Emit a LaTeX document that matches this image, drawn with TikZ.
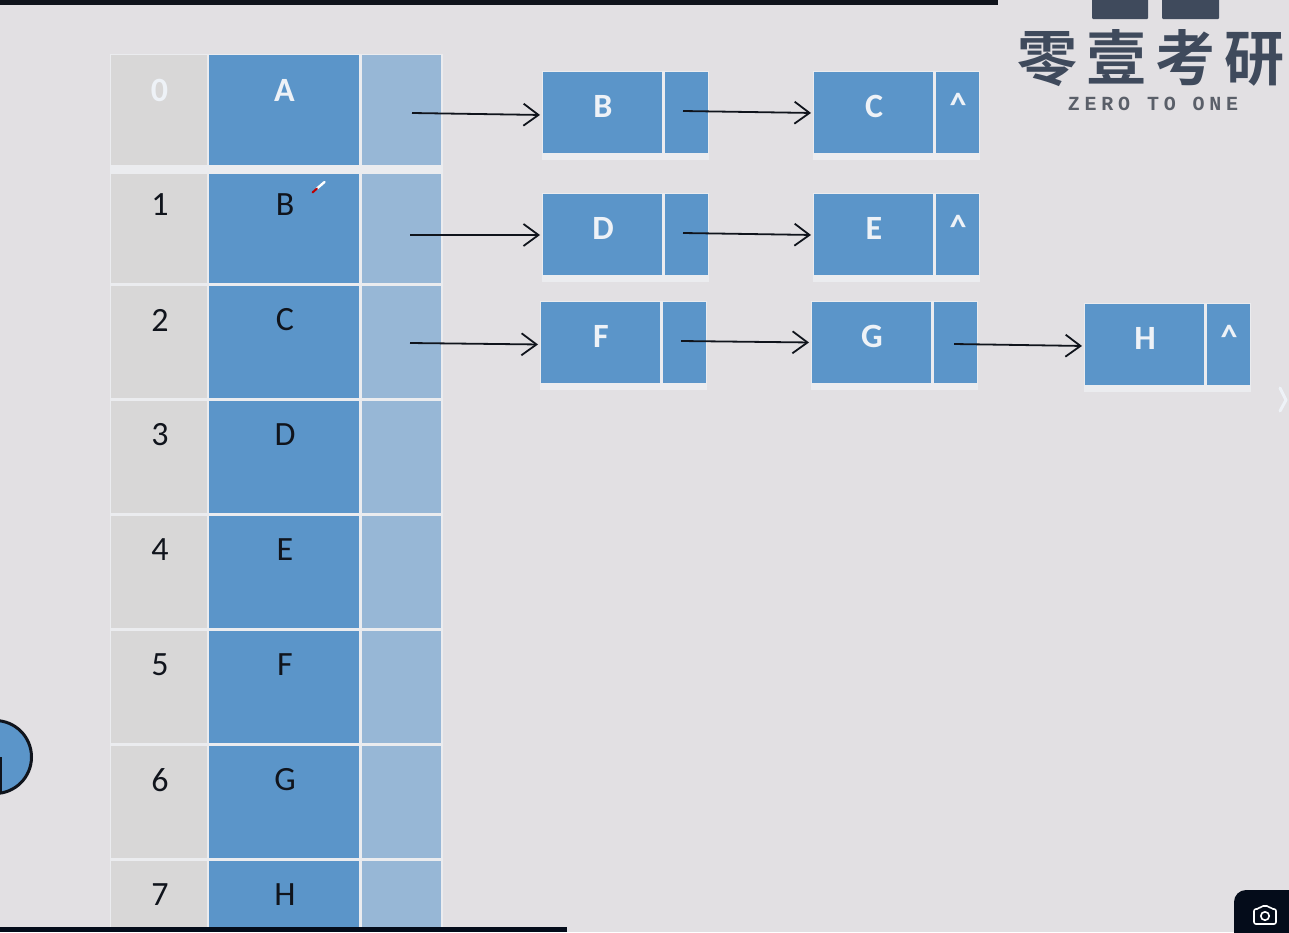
\documentclass[tikz,border=0pt]{standalone}
\usepackage{fontspec}
\setmainfont{Carlito}
\newfontfamily\cjkbold[BoldFont=Noto Sans CJK SC Bold]{Noto Sans CJK SC}
\newfontfamily\logolatin[LetterSpace=24]{Liberation Mono}
\usetikzlibrary{arrows.meta}
\definecolor{pagebg}{HTML}{E2E0E3}
\definecolor{gapbg}{HTML}{EBECEF}
\definecolor{greycell}{HTML}{D8D7D7}
\definecolor{bluecell}{HTML}{5B95C9}
\definecolor{paleblue}{HTML}{97B7D6}
\definecolor{inkdark}{HTML}{10141C}
\definecolor{navybar}{HTML}{040C1A}
\definecolor{logoink}{HTML}{3F4A5C}
\definecolor{logotext}{HTML}{5A5F69}
\definecolor{softwhite}{HTML}{EEF2F7}
\tikzset{
  x=1pt,y=-1pt,
  cellbox/.style={anchor=north west,inner sep=0pt,outer sep=0pt,draw=none},
  darktext/.style={text=inkdark,xshift=1pt,font=\fontsize{34}{34}\selectfont},
  boldtext/.style={text=softwhite,xshift=0.5pt,font=\fontsize{34}{34}\selectfont\bfseries},
  conn/.style={draw=inkdark,line width=1.8pt,shorten >=3pt,-{Straight Barb[length=15pt,width=22pt,line width=1.8pt]}},
  shade/.style={fill=gapbg,draw=none},
}
% name, x0, y0, x1, y1, fill, label y, label style, text
\newcommand{\gridcell}[9]{%
  \pgfmathsetlengthmacro{\cw}{(#4)-(#2)}%
  \pgfmathsetlengthmacro{\ch}{(#5)-(#3)}%
  \pgfmathsetlengthmacro{\lsh}{((#3)+(#5))/2-(#7)}%
  \node[cellbox,fill=#6,minimum width=\cw,minimum height=\ch,
        label={[#8,inner sep=0pt,yshift=\lsh]center:#9}] (#1) at (#2,#3) {};%
}
% row: suffix, y0, y1, label y, style, index, value
\newcommand{\tablerow}[7]{%
  \gridcell{t#1i}{111}{#2}{207}{#3}{greycell}{#4}{#5}{#6}%
  \gridcell{t#1v}{209}{#2}{359}{#3}{bluecell}{#4}{#5}{#7}%
  \gridcell{t#1p}{362}{#2}{441}{#3}{paleblue}{#4}{#5}{}%
}
% list node: suffix, x0, y0, value, pointer text, value y
\newcommand{\listnode}[6]{%
  \fill[shade] ({#2-1},{#3-1}) rectangle ({#2+166},{#3+88});%
  \gridcell{n#1}{#2}{#3}{#2+119}{#3+81}{bluecell}{#6}{boldtext}{#4}%
  \gridcell{n#1p}{#2+122}{#3}{#2+165}{#3+81}{bluecell}{#6-1}{boldtext}{#5}%
}
\begin{document}
\begin{tikzpicture}
\useasboundingbox (0,0) rectangle (1289,932);
\fill[pagebg] (0,0) rectangle (1289,932);

% table
\fill[gapbg] (109.5,53.5) rectangle (442.5,932);
\tablerow{0}{55}{165}{90}{boldtext}{0}{A}
\tablerow{1}{174}{283}{205}{darktext}{1}{B}
\tablerow{2}{286}{398}{320}{darktext}{2}{C}
\tablerow{3}{401}{513}{435}{darktext}{3}{D}
\tablerow{4}{516}{628}{550}{darktext}{4}{E}
\tablerow{5}{631}{743}{665}{darktext}{5}{F}
\tablerow{6}{746}{858}{780}{darktext}{6}{G}
\tablerow{7}{861}{932}{895}{darktext}{7}{H}

% linked nodes
\listnode{B}{543}{72}{B}{}{106}
\listnode{C}{814}{72}{C}{\^{}}{106}
\listnode{D}{543}{194}{D}{}{228}
\listnode{E}{814}{194}{E}{\^{}}{228}
\listnode{F}{541}{302}{F}{}{336}
\listnode{G}{812}{302}{G}{}{336}
\listnode{H}{1085}{304}{H}{\^{}}{338}

% connector starts
\coordinate (s0) at (412,113);
\coordinate (s1) at (410,235);
\coordinate (s2) at (410,343);
\coordinate (sB) at (683,111);
\coordinate (sD) at (683,233);
\coordinate (sF) at (681,341);
\coordinate (sG) at (954,344);

\draw[conn] (s0) -- ([yshift=-2.5pt]nB.west);
\draw[conn] (sB) -- ([yshift=-0.5pt]nC.west);
\draw[conn] (s1) -- ([yshift=-0.5pt]nD.west);
\draw[conn] (sD) -- ([yshift=-0.5pt]nE.west);
\draw[conn] (s2) -- ([yshift=-2pt]nF.west);
\draw[conn] (sF) -- (nG.west);
\draw[conn] (sG) -- ([yshift=-1.5pt]nH.west);

% pen cursor mark
\draw[white,line width=2.4pt,line cap=round] (324.5,182) -- (317,188.5);
\draw[red!75!black,line width=2pt,line cap=round] (317,188.5) -- (312.5,192.5);

% window bars
\fill[inkdark] (0,0) rectangle (998,5);
\fill[navybar] (0,927) rectangle (567,932);

% logo
\fill[logoink,rounded corners=1pt] (1092,-3) rectangle (1148,19);
\fill[logoink,rounded corners=1pt] (1162,-3) rectangle (1219,19);
\node[inner sep=0pt,anchor=center,text=logoink] (logocn) at (1151,58)
  {\fontsize{60}{60}\selectfont\cjkbold\bfseries 零\kern9pt壹\kern9pt考\kern9pt研};
\node[inner sep=0pt,anchor=center,text=logotext] (logoen) at (1153,104)
  {\fontsize{20}{20}\selectfont\logolatin\bfseries ZERO TO ONE};

% partly hidden round button on the left
\draw[inkdark,fill=bluecell,line width=3pt] (-5,757) circle [radius=36.5];
\fill[inkdark] (-1,757) rectangle (2,792);

% chevron at the right edge
\draw[softwhite,line width=3pt,line cap=round,line join=round] (1280,388) -- (1286,400) -- (1280,411);

% camera button
\fill[navybar,rounded corners=12pt] (1234,890) rectangle (1310,950);
\draw[white,line width=1.6pt,line join=round,rounded corners=2pt]
  (1254,909) -- (1259,909) -- (1261,906) -- (1269,906) -- (1271,909) -- (1276,909) -- (1276,924) -- (1254,924) -- cycle;
\draw[white,line width=1.6pt] (1265,916) circle [radius=4.2];
\end{tikzpicture}
\end{document}
